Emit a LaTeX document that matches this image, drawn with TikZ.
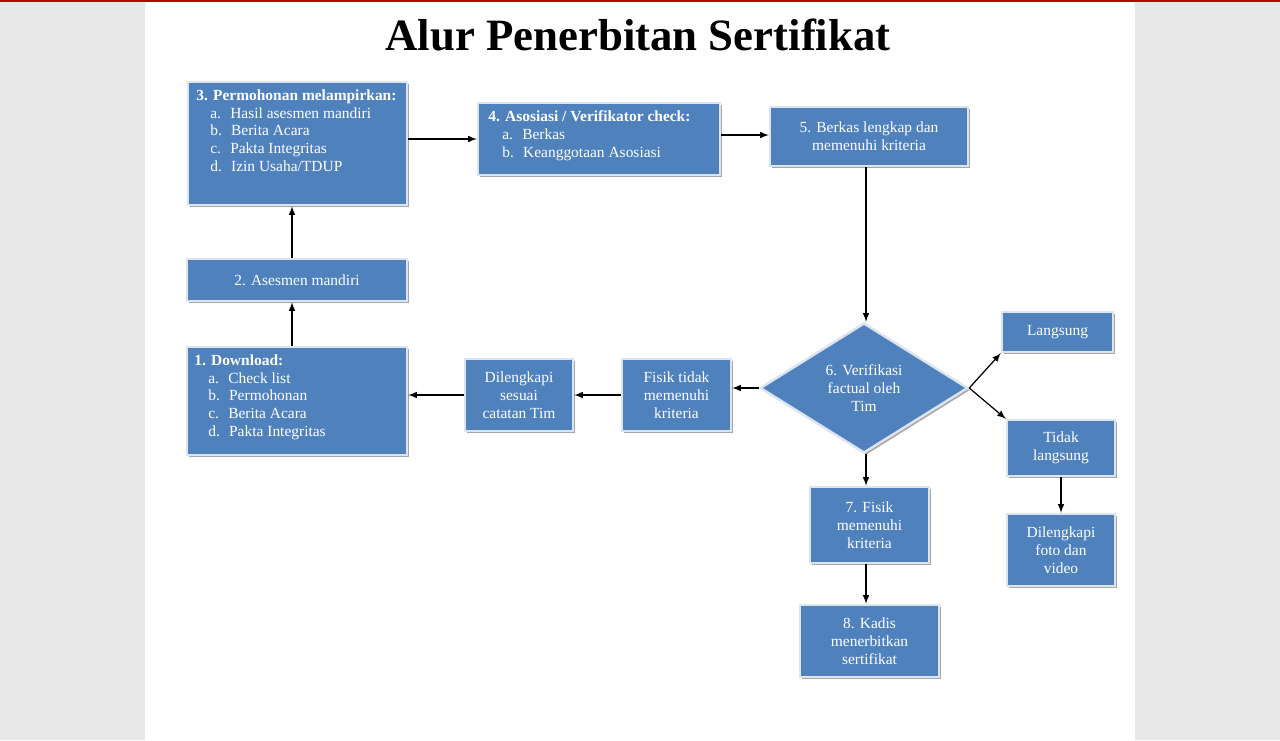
\documentclass[tikz,border=0pt]{standalone}
\usepackage{fontspec}
\setmainfont{Liberation Serif}
\usetikzlibrary{shapes.geometric,shadows}
\definecolor{boxblue}{HTML}{4F81BD}
\definecolor{boxedge}{HTML}{DCE4EE}
\tikzset{
  stepbox/.style={draw=boxedge, line width=1.4pt, fill=boxblue, text=white,
    font=\fontsize{8.8pt}{10.2pt}\selectfont, align=center, inner sep=2pt,
    drop shadow={shadow xshift=1.2pt, shadow yshift=-1.2pt, fill=black!35, opacity=1}},
  listtext/.style={anchor=north west, text=white, align=left, inner sep=0pt,
    font=\fontsize{8.8pt}{10.2pt}\selectfont},
  flow/.style={-latex, line width=0.7pt}
}
\newcommand{\itm}[2]{\hspace*{0.9em}#1\hspace{0.6em}#2}
\begin{document}
\begin{tikzpicture}[x=0.02cm, y=-0.02cm]
  %%%%% PAGE %%%%%
  \fill[black!9] (0,0) rectangle (1280,740);
  \fill[white] (145,0) rectangle (1135,740);
  \fill[red!75!black] (0,0) rectangle (1280,2);
  \useasboundingbox (0,0) rectangle (1280,740);

  \node[font=\bfseries\fontsize{25.5pt}{27pt}\selectfont] (title) at (638,35) {Alur Penerbitan Sertifikat};

  %%%%% STEPS %%%%%
  \node[stepbox, minimum width=219*0.02cm, minimum height=123*0.02cm] (s3) at (297.5,143.5) {};
  \node[listtext] (s3text) at (196,89) {\textbf{3. Permohonan melampirkan:}\\
    \itm{a.}{Hasil asesmen mandiri}\\ \itm{b.}{Berita Acara}\\
    \itm{c.}{Pakta Integritas}\\ \itm{d.}{Izin Usaha/TDUP}};

  \node[stepbox, minimum width=242*0.02cm, minimum height=72*0.02cm] (s4) at (599,139) {};
  \node[listtext] (s4text) at (488,110) {\textbf{4. Asosiasi / Verifikator check:}\\
    \itm{a.}{Berkas}\\ \itm{b.}{Keanggotaan Asosiasi}};

  \node[stepbox, minimum width=198*0.02cm, minimum height=59*0.02cm] (s5) at (869,136.5)
    {5. Berkas lengkap dan\\ memenuhi kriteria};
  \node[stepbox, minimum width=220*0.02cm, minimum height=42*0.02cm] (s2) at (297,280) {2. Asesmen mandiri};

  \node[stepbox, minimum width=220*0.02cm, minimum height=108*0.02cm] (s1) at (297,401) {};
  \node[listtext] (s1text) at (194,354) {\textbf{1. Download:}\\
    \itm{a.}{Check list}\\ \itm{b.}{Permohonan}\\
    \itm{c.}{Berita Acara}\\ \itm{d.}{Pakta Integritas}};

  \node[stepbox, minimum width=108*0.02cm, minimum height=72*0.02cm] (lengkapi) at (519,395)
    {Dilengkapi\\ sesuai\\ catatan Tim};
  \node[stepbox, minimum width=109*0.02cm, minimum height=72*0.02cm] (tidakfisik) at (676.5,395)
    {Fisik tidak\\ memenuhi\\ kriteria};
  \node[stepbox, diamond, inner sep=0pt, minimum width=208*0.02cm, minimum height=130*0.02cm,
    aspect=1.6] (s6) at (864,388) {6. Verifikasi\\ factual oleh\\ Tim};
  \node[stepbox, minimum width=111*0.02cm, minimum height=40*0.02cm] (langsung) at (1057.5,332) {Langsung};
  \node[stepbox, minimum width=108*0.02cm, minimum height=56*0.02cm] (tidak) at (1061,448) {Tidak\\ langsung};
  \node[stepbox, minimum width=108*0.02cm, minimum height=72*0.02cm] (foto) at (1061,550)
    {Dilengkapi\\ foto dan\\ video};
  \node[stepbox, minimum width=119*0.02cm, minimum height=76*0.02cm] (s7) at (869.5,525)
    {7. Fisik\\ memenuhi\\ kriteria};
  \node[stepbox, minimum width=139*0.02cm, minimum height=72*0.02cm] (s8) at (869.5,641)
    {8. Kadis\\ menerbitkan\\ sertifikat};

  %%%%% ARROWS %%%%%
  \draw[flow] (s3.east |- 0,139) -- (s4.west |- 0,139);
  \draw[flow] (s4.east |- 0,135) -- (s5.west |- 0,135);
  \draw[flow] (s5.south -| 866,0) -- (s6.north -| 866,0);
  \draw[flow] (s6.west) -- (tidakfisik.east |- s6.west);
  \draw[flow] (tidakfisik.west) -- (lengkapi.east);
  \draw[flow] (lengkapi.west) -- (s1.east |- lengkapi.west);
  \draw[flow] (s1.north -| 292,0) -- (s2.south -| 292,0);
  \draw[flow] (s2.north -| 292,0) -- (s3.south -| 292,0);
  \draw[flow] (s6.east) -- (langsung.south west);
  \draw[flow] (s6.east) -- (tidak.north west);
  \draw[flow] (tidak.south) -- (foto.north);
  \draw[flow] (s6.south -| 866,0) -- (s7.north -| 866,0);
  \draw[flow] (s7.south -| 866,0) -- (s8.north -| 866,0);
\end{tikzpicture}
\end{document}
